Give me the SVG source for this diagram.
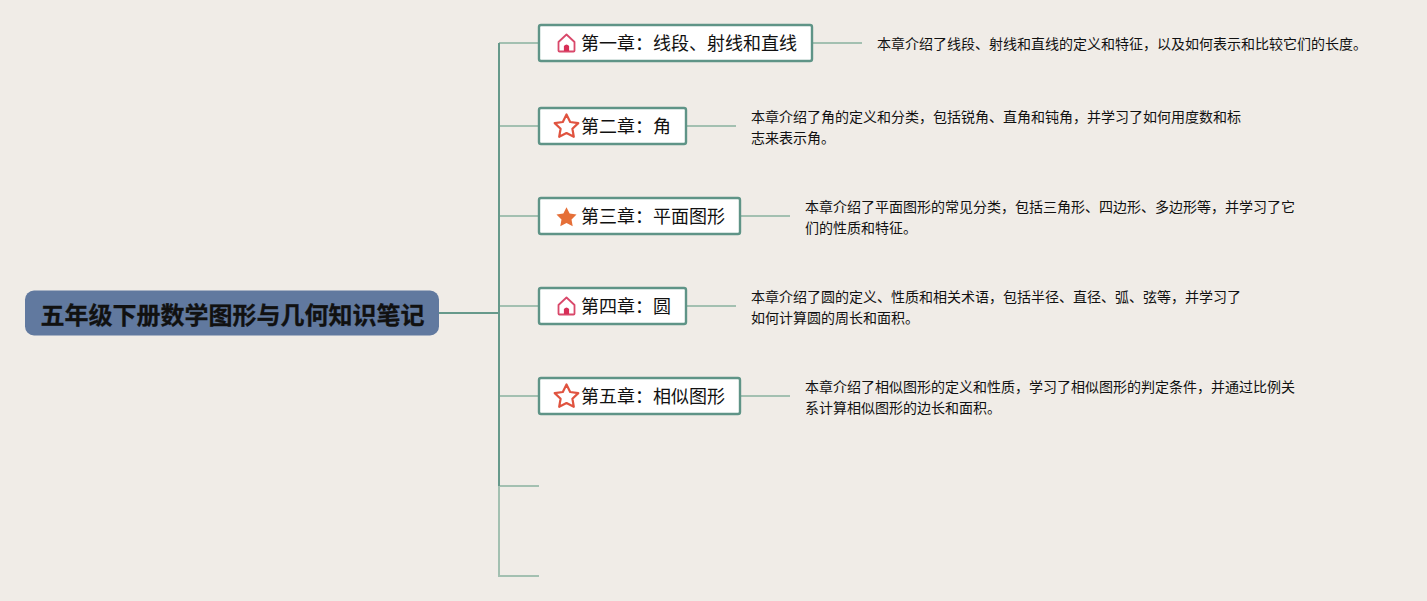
<svg xmlns="http://www.w3.org/2000/svg" width="1427" height="601" viewBox="0 0 1427 601">
<style>
text{font-family:"Noto Sans CJK SC","Noto Sans CJK JP",sans-serif;fill:#111}
.t{font-size:18px}
.d{font-size:14px}
.n{fill:#fff;stroke:#5f9487;stroke-width:2.400}
.l{fill:none;stroke:#a3c0b1;stroke-width:2}
.m{fill:none;stroke:#66998b;stroke-width:2}
.s{fill:none;stroke:#e0533f;stroke-width:2.200;stroke-linejoin:round}
.h{fill:none;stroke:#d9486a;stroke-width:1.800;stroke-linejoin:round}
.f{fill:#d72f57}
</style>
<defs>
<g id="house"><path class="h" d="M-8 -1L0 -8.500L8 -1V7.800Q8 8.500 7 8.500H-7Q-8 8.500 -8 7.800Z"/><path class="f" d="M-2.600 8V3Q0 0 2.600 3V8Z"/></g>
<path id="star" d="M0 -11.500L3.700 -4L11.800 -2.900L5.900 2.800L7.300 10.800L0 7L-7.300 10.800L-5.900 2.800L-11.800 -2.900L-3.700 -4Z"/>
</defs>
<rect width="1427" height="601" fill="#f0ece7"/>
<g id="connectors">
<path class="l" d="M499 43H539M499 126H539M499 216H539M499 306H539M499 396H539M499 486H539M499 486V576H539"/>
<path class="m" d="M439 313H499M499 43V486"/>
<path class="l" d="M812 43H862M687 126H736M741 216H790M687 306H736M741 396H790"/>
</g>
<g id="root"><rect x="25" y="290.500" width="414" height="45" rx="9" fill="#61799f"/><text x="40.500" y="323.500" style="font-size:24px;font-weight:700;stroke:#111;stroke-width:.3">五年级下册数学图形与几何知识笔记</text></g>
<g id="ch1"><rect class="n" x="539" y="25" width="273" height="36" rx="2"/><use href="#house" x="566.500" y="43"/><text class="t" x="581" y="50">第一章：线段、射线和直线</text></g>
<g id="ch2"><rect class="n" x="539" y="108" width="147" height="36" rx="2"/><use href="#star" class="s" x="566.500" y="126"/><text class="t" x="581" y="133">第二章：角</text></g>
<g id="ch3"><rect class="n" x="539" y="198" width="201" height="36" rx="2"/><use href="#star" x="566.500" y="217" fill="#e56f38" transform="translate(566.500 217) scale(.85) translate(-566.500 -217)"/><text class="t" x="581" y="223">第三章：平面图形</text></g>
<g id="ch4"><rect class="n" x="539" y="288" width="147" height="36" rx="2"/><use href="#house" x="566.500" y="306"/><text class="t" x="581" y="313">第四章：圆</text></g>
<g id="ch5"><rect class="n" x="539" y="378" width="201" height="36" rx="2"/><use href="#star" class="s" x="566.500" y="396"/><text class="t" x="581" y="403">第五章：相似图形</text></g>
<g id="d1"><text class="d" x="877" y="49">本章介绍了线段、射线和直线的定义和特征，以及如何表示和比较它们的长度。</text></g>
<g id="d2"><text class="d" x="751" y="122">本章介绍了角的定义和分类，包括锐角、直角和钝角，并学习了如何用度数和标</text><text class="d" x="751" y="142.500">志来表示角。</text></g>
<g id="d3"><text class="d" x="805" y="212">本章介绍了平面图形的常见分类，包括三角形、四边形、多边形等，并学习了它</text><text class="d" x="805" y="232.500">们的性质和特征。</text></g>
<g id="d4"><text class="d" x="751" y="302">本章介绍了圆的定义、性质和相关术语，包括半径、直径、弧、弦等，并学习了</text><text class="d" x="751" y="322.500">如何计算圆的周长和面积。</text></g>
<g id="d5"><text class="d" x="805" y="392">本章介绍了相似图形的定义和性质，学习了相似图形的判定条件，并通过比例关</text><text class="d" x="805" y="412.500">系计算相似图形的边长和面积。</text></g>
</svg>
